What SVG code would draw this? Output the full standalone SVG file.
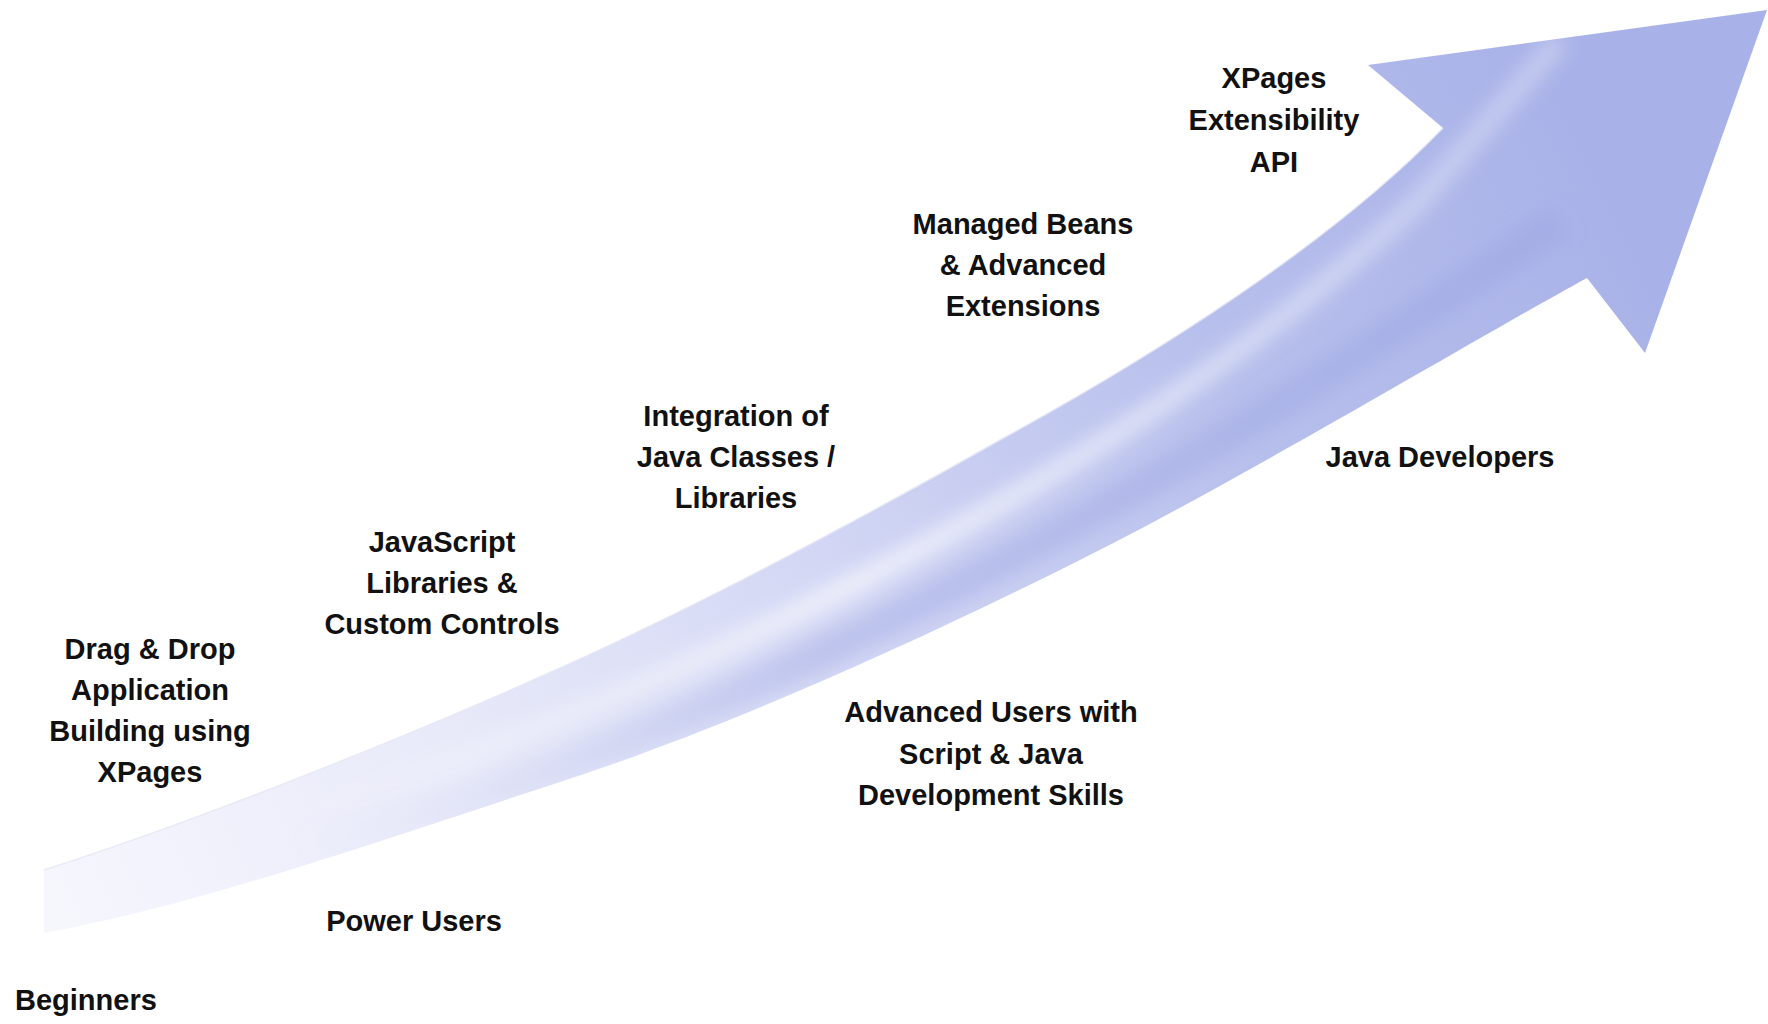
<svg xmlns="http://www.w3.org/2000/svg" width="1768" height="1024" viewBox="0 0 1768 1024">
  <style>
    .lbl { font-family: "Liberation Sans", Arial, sans-serif; font-weight: bold; font-size: 29px; fill: #111111; text-anchor: middle; }
    .start { text-anchor: start; }
  </style>
  <defs>
    <linearGradient id="arrowFill" gradientUnits="userSpaceOnUse" x1="44" y1="900" x2="1600" y2="150">
      <stop offset="0" stop-color="#f6f6fd"/>
      <stop offset="0.25" stop-color="#e8eaf9"/>
      <stop offset="0.5" stop-color="#d2d6f4"/>
      <stop offset="0.75" stop-color="#b7bfec"/>
      <stop offset="1" stop-color="#a9b2e8"/>
    </linearGradient>
    <linearGradient id="shadeGrad" gradientUnits="userSpaceOnUse" x1="300" y1="850" x2="1500" y2="200">
      <stop offset="0" stop-color="#c9cdf0" stop-opacity="0"/>
      <stop offset="0.4" stop-color="#a7b0e6" stop-opacity="0.5"/>
      <stop offset="1" stop-color="#9ea8e4" stop-opacity="0.55"/>
    </linearGradient>
    <linearGradient id="hiGrad" gradientUnits="userSpaceOnUse" x1="300" y1="850" x2="1500" y2="200">
      <stop offset="0" stop-color="#ffffff" stop-opacity="0"/>
      <stop offset="0.45" stop-color="#ffffff" stop-opacity="0.6"/>
      <stop offset="1" stop-color="#ffffff" stop-opacity="0.3"/>
    </linearGradient>
    <filter id="blur" x="-10%" y="-10%" width="120%" height="120%">
      <feGaussianBlur stdDeviation="9"/>
    </filter>
    <clipPath id="arrowClip">
      <path d="M44,870 C200,820 400,740 560,668 C700,605 850,525 1000,440 C1150,358 1330,245 1443,128 L1368,65 L1767,10 L1645,353 L1587,278 C1470,342 1240,480 1080,560 C900,650 720,730 560,782 C400,834 200,905 44,933 Z"/>
    </clipPath>
  </defs>

  <rect x="0" y="0" width="1768" height="1024" fill="#ffffff"/>

  <g id="connectors">
    <g id="arrow">
      <path d="M44,870 C200,820 400,740 560,668 C700,605 850,525 1000,440 C1150,358 1330,245 1443,128 L1368,65 L1767,10 L1645,353 L1587,278 C1470,342 1240,480 1080,560 C900,650 720,730 560,782 C400,834 200,905 44,933 Z" fill="url(#arrowFill)"/>
      <g clip-path="url(#arrowClip)">
        <path d="M300,850 C500,800 700,715 900,615 C1100,515 1300,400 1560,220" fill="none" stroke="url(#shadeGrad)" stroke-width="34" filter="url(#blur)"/>
        <path d="M300,812 C500,750 700,665 880,570 C1080,465 1260,350 1420,200 L1560,40" fill="none" stroke="url(#hiGrad)" stroke-width="22" filter="url(#blur)"/>
      </g>
      <path d="M44,870 C200,820 400,740 560,668 C700,605 850,525 1000,440 C1150,358 1330,245 1443,128" fill="none" stroke="#e4e6f6" stroke-width="1.5" opacity="0.8"/>
    </g>
  </g>

  <g id="node-xpages-api">
    <text class="lbl" x="1274" y="88">XPages</text>
    <text class="lbl" x="1274" y="130">Extensibility</text>
    <text class="lbl" x="1274" y="172">API</text>
  </g>
  <g id="node-managed-beans">
    <text class="lbl" x="1023" y="234">Managed Beans</text>
    <text class="lbl" x="1023" y="275">&amp; Advanced</text>
    <text class="lbl" x="1023" y="316">Extensions</text>
  </g>
  <g id="node-java-classes">
    <text class="lbl" x="736" y="426">Integration of</text>
    <text class="lbl" x="736" y="467">Java Classes /</text>
    <text class="lbl" x="736" y="508">Libraries</text>
  </g>
  <g id="node-javascript">
    <text class="lbl" x="442" y="552">JavaScript</text>
    <text class="lbl" x="442" y="593">Libraries &amp;</text>
    <text class="lbl" x="442" y="634">Custom Controls</text>
  </g>
  <g id="node-drag-drop">
    <text class="lbl" x="150" y="659">Drag &amp; Drop</text>
    <text class="lbl" x="150" y="700">Application</text>
    <text class="lbl" x="150" y="741">Building using</text>
    <text class="lbl" x="150" y="782">XPages</text>
  </g>
  <g id="node-power-users">
    <text class="lbl" x="414" y="931">Power Users</text>
  </g>
  <g id="node-beginners">
    <text class="lbl start" x="15" y="1010">Beginners</text>
  </g>
  <g id="node-advanced-users">
    <text class="lbl" x="991" y="722">Advanced Users with</text>
    <text class="lbl" x="991" y="764">Script &amp; Java</text>
    <text class="lbl" x="991" y="805">Development Skills</text>
  </g>
  <g id="node-java-developers">
    <text class="lbl" x="1440" y="467">Java Developers</text>
  </g>
</svg>
